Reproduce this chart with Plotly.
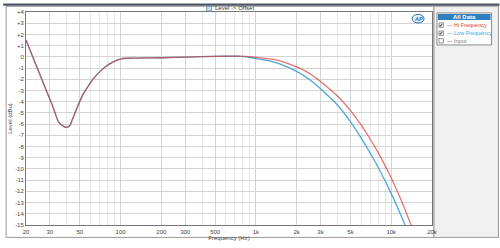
import plotly.graph_objects as go
import math

# ---- data ----
freq_common = [20, 22, 25, 28, 31.5, 35, 38, 40, 42, 44, 47, 52, 57, 62, 68, 73, 80, 87, 95, 103, 120, 150, 200, 300, 500, 700]
level_common = [1.5, 0.25, -1.4, -2.9, -4.4, -5.85, -6.2, -6.3, -6.15, -5.6, -4.75, -3.5, -2.7, -2.05, -1.5, -1.14, -0.75, -0.49, -0.27, -0.15, -0.12, -0.1, -0.08, -0.02, 0.05, 0.07]

freq_hi_tail = [850, 1000, 1300, 1500, 2000, 2500, 3000, 4000, 5000, 6000, 7000, 8000, 9000, 10000, 11000, 12000, 13000, 14000, 15000]
level_hi_tail = [0.05, -0.05, -0.2, -0.35, -0.9, -1.5, -2.2, -3.5, -4.8, -6.1, -7.35, -8.55, -9.7, -10.8, -11.9, -12.95, -14.0, -15.0, -16.0]

freq_lo_tail = [850, 1000, 1300, 1500, 2000, 2500, 3000, 4000, 5000, 6000, 7000, 8000, 9000, 10000, 11000, 12000, 13000, 14000]
level_lo_tail = [0.0, -0.15, -0.4, -0.62, -1.3, -2.05, -2.85, -4.3, -5.8, -7.25, -8.6, -9.85, -11.05, -12.2, -13.3, -14.35, -15.35, -16.3]

x_tick_vals = [20, 30, 50, 100, 200, 300, 500, 1000, 2000, 3000, 5000, 10000, 20000]
x_tick_text = ["20", "30", "50", "100", "200", "300", "500", "1k", "2k", "3k", "5k", "10k", "20k"]
y_tick_vals = list(range(4, -16, -1))
y_tick_text = [("+%d" % v if v > 0 else str(v)) for v in y_tick_vals]

series_names = ["Hi Frequency", "Low Frequency", "Input"]
series_colors = ["#d43c3c", "#3aa0d8", "#7a7a7a"]

minor_vals = []
for dec in [10, 100, 1000, 10000]:
    for m in range(1, 10):
        v = m * dec
        if 20 <= v <= 20000 and v not in x_tick_vals:
            minor_vals.append(v)

W, H = 500, 248
L, R, T, B = 23, 432, 9, 232

def px(x):
    return (x - L) / (R - L)

def py(y):
    return (B - y) / (B - T)

fig = go.Figure()
fig.add_trace(go.Scatter(x=freq_common + freq_lo_tail, y=level_common + level_lo_tail,
                         mode="lines", line=dict(color=series_colors[1], width=1.3, shape="spline", smoothing=0.8),
                         name=series_names[1], opacity=0.9))
fig.add_trace(go.Scatter(x=freq_common + freq_hi_tail, y=level_common + level_hi_tail,
                         mode="lines", line=dict(color=series_colors[0], width=1.3, shape="spline", smoothing=0.8),
                         name=series_names[0], opacity=0.7))

font = dict(family="Liberation Sans, Arial, sans-serif", size=6, color="#333")

fig.update_layout(
    width=W, height=H,
    margin=dict(l=L, r=W - R, t=T, b=H - B),
    paper_bgcolor="white", plot_bgcolor="white",
    showlegend=False,
    font=font,
    xaxis=dict(type="log", range=[math.log10(20), math.log10(20000)],
               tickvals=x_tick_vals, ticktext=x_tick_text, tickfont=dict(size=6, color="#444"),
               showgrid=True, gridcolor="#d4d4d4", gridwidth=1,
               minor=dict(tickvals=minor_vals, showgrid=True, gridcolor="#e8e8e8", ticks=""),
               showline=True, linecolor="#777", linewidth=1, mirror=True,
               ticks="", ticklabelstandoff=1, zeroline=False,
               title=dict(text="Frequency (Hz)", font=dict(size=6, color="#444"), standoff=0)),
    yaxis=dict(range=[-15, 4], tickvals=y_tick_vals, ticktext=y_tick_text,
               tickfont=dict(size=6, color="#444"),
               showgrid=True, gridcolor="#d4d4d4", gridwidth=1,
               showline=True, linecolor="#777", linewidth=1, mirror=True,
               ticks="", zeroline=False,
               title=dict(text="Level (dBu)", font=dict(size=6, color="#444"), standoff=2)),
)

shapes = []
shapes.append(dict(type="rect", xref="paper", yref="paper", x0=px(3), x1=px(434), y0=py(245), y1=py(3),
                   line=dict(color="#9a9a9a", width=1), fillcolor="rgba(0,0,0,0)", layer="below"))
shapes.append(dict(type="rect", xref="paper", yref="paper", x0=px(434), x1=px(499), y0=py(245), y1=py(3),
                   line=dict(color="#9a9a9a", width=1), fillcolor="#f0f0f0", layer="below"))
shapes.append(dict(type="rect", xref="paper", yref="paper", x0=px(0), x1=px(500), y0=py(2.5), y1=py(0),
                   line=dict(width=0), fillcolor="#4e5566", layer="above"))
shapes.append(dict(type="rect", xref="paper", yref="paper", x0=px(437), x1=px(492), y0=py(43.5), y1=py(10),
                   line=dict(color="#8a8a8a", width=1), fillcolor="white", layer="above"))
shapes.append(dict(type="rect", xref="paper", yref="paper", x0=px(438), x1=px(491), y0=py(17.5), y1=py(11),
                   line=dict(width=0), fillcolor="#2f7fc0", layer="above"))
row_y = [22.7, 31.2, 39.2]
for ry in row_y:
    shapes.append(dict(type="rect", xref="paper", yref="paper", x0=px(439), x1=px(443.5), y0=py(ry + 2.3), y1=py(ry - 2.3),
                       line=dict(color="#777", width=0.8), fillcolor="white", layer="above"))
shapes.append(dict(type="rect", xref="paper", yref="paper", x0=px(205), x1=px(210), y0=py(8), y1=py(3),
                   line=dict(color="#5a8ab0", width=0.8), fillcolor="#cfe0ee", layer="above"))
shapes.append(dict(type="circle", xref="paper", yref="paper", x0=px(412), x1=px(424), y0=py(20.5), y1=py(11.5),
                   line=dict(color="#2f6fb0", width=1), fillcolor="#e6eef8", layer="above"))
fig.update_layout(shapes=shapes)

ann = []
ann.append(dict(text="Level -> Offset", x=px(211), y=py(5.3), xref="paper", yref="paper",
                xanchor="left", yanchor="middle", showarrow=False, font=dict(size=6, color="#333")))
ann.append(dict(text="<b>All Data</b>", x=px(464.5), y=py(14.2), xref="paper", yref="paper",
                xanchor="center", yanchor="middle", showarrow=False, font=dict(size=6, color="white")))
for i, (nm, col) in enumerate(zip(series_names, series_colors)):
    ann.append(dict(text="— " + nm, x=px(445.5), y=py(row_y[i]), xref="paper", yref="paper",
                    xanchor="left", yanchor="middle", showarrow=False, font=dict(size=5.5, color=col)))
    if i < 2:
        ann.append(dict(text="✔", x=px(441.2), y=py(row_y[i]), xref="paper", yref="paper",
                        xanchor="center", yanchor="middle", showarrow=False, font=dict(size=5, color="#111")))
ann.append(dict(text="<i><b>AP</b></i>", x=px(418), y=py(16), xref="paper", yref="paper",
                xanchor="center", yanchor="middle", showarrow=False, font=dict(size=5.5, color="#2f6fb0")))
fig.update_layout(annotations=ann)

fig.write_html("out.html")
